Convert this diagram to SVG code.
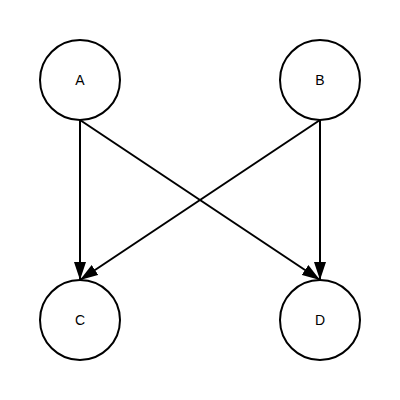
<svg xmlns="http://www.w3.org/2000/svg" width="400" height="400" viewBox="0 0 400 400">
<style>
.node circle{fill:#fff;stroke:#000;stroke-width:2}
.node text{font-family:"Liberation Sans",Arial,sans-serif;font-size:14px;fill:#000;text-anchor:middle;dominant-baseline:central}
.edge{stroke:#000;stroke-width:2;fill:none;marker-end:url(#arr)}
</style>
<defs>
<marker id="arr" markerUnits="userSpaceOnUse" markerWidth="18" markerHeight="12" viewBox="0 0 18 12" refX="18" refY="6" orient="auto">
<path d="M0,0 L18,6 L0,12 Z" fill="#000"/>
</marker>
</defs>
<rect width="400" height="400" fill="#fff"/>
<g id="connectors">
<line class="edge" x1="80" y1="120" x2="80" y2="280"/>
<line class="edge" x1="80" y1="120" x2="320" y2="280"/>
<line class="edge" x1="320" y1="120" x2="80" y2="280"/>
<line class="edge" x1="320" y1="120" x2="320" y2="280"/>
</g>
<g id="A" class="node"><circle cx="80" cy="80" r="40"/><text x="80" y="80">A</text></g>
<g id="B" class="node"><circle cx="320" cy="80" r="40"/><text x="320" y="80">B</text></g>
<g id="C" class="node"><circle cx="80" cy="320" r="40"/><text x="80" y="320">C</text></g>
<g id="D" class="node"><circle cx="320" cy="320" r="40"/><text x="320" y="320">D</text></g>
</svg>
